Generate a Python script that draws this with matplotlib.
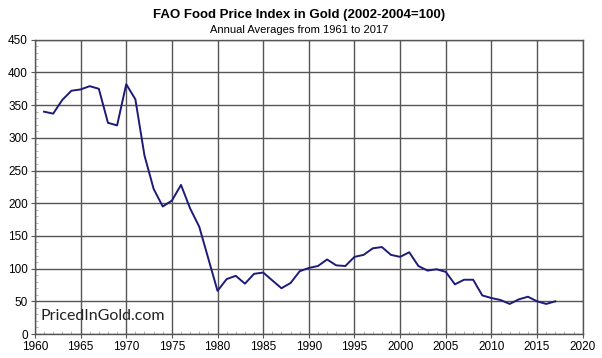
import matplotlib.pyplot as plt
from matplotlib.ticker import MultipleLocator

plt.rcParams['font.family'] = ['Liberation Sans', 'DejaVu Sans']

# Annual FAO food price index priced in gold (2002-2004=100)
years = list(range(1961, 2018))
index_gold = [340, 337, 358, 372, 374, 379, 375, 323, 319, 382,
              359, 273, 222, 195, 204, 228, 192, 164, 115, 66,
              84, 89, 77, 92, 94, 82, 70, 78, 96, 101,
              104, 114, 105, 104, 118, 121, 131, 133, 121, 118,
              125, 104, 97, 99, 95, 76, 83, 83, 59, 55,
              52, 46, 53, 57, 50, 46, 50]

fig = plt.figure(figsize=(6.02, 3.58), dpi=100)
ax = fig.add_axes([0.058, 0.067, 0.910, 0.822])

ax.plot(years, index_gold, color='#1c1c78', lw=1.4, zorder=3)

ax.set_xlim(1960, 2020)
ax.set_ylim(0, 450)
ax.xaxis.set_major_locator(MultipleLocator(5))
ax.yaxis.set_major_locator(MultipleLocator(50))
ax.xaxis.set_minor_locator(MultipleLocator(1))
ax.yaxis.set_minor_locator(MultipleLocator(10))
ax.grid(True, which='major', color='#555555', lw=1.0)
ax.tick_params(which='major', labelsize=8.5, length=3, color='#555555', pad=2)
ax.tick_params(which='minor', length=2, color='#aaaaaa', direction='in')
for s in ax.spines.values():
    s.set_color('#555555')
    s.set_linewidth(1.0)

fig.text(0.497, 0.957, 'FAO Food Price Index in Gold (2002-2004=100)',
         ha='center', va='center', fontsize=9.5, fontweight='bold')
fig.text(0.497, 0.916, 'Annual Averages from 1961 to 2017',
         ha='center', va='center', fontsize=8)
ax.text(1960.6, 28, 'PricedInGold.com', fontsize=11.5, family='Lato',
        color='#222222', va='center', ha='left')

fig.savefig('out.png', dpi=100)
